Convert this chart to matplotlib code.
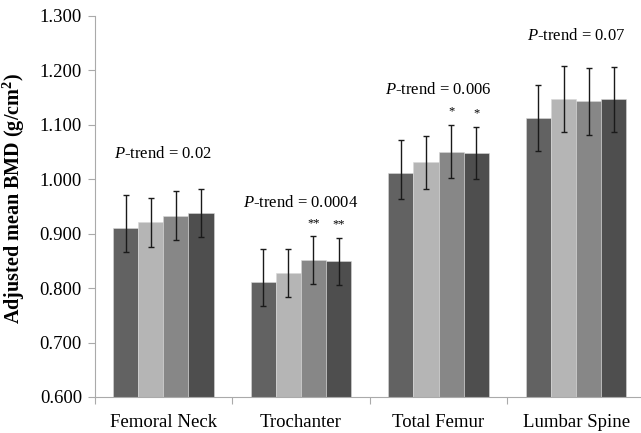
import numpy as np
import matplotlib
matplotlib.use('Agg')
import matplotlib.pyplot as plt

plt.rcParams['font.family'] = ['Liberation Serif', 'DejaVu Serif']
plt.rcParams['mathtext.fontset'] = 'custom'
plt.rcParams['mathtext.rm'] = 'Liberation Serif'
plt.rcParams['mathtext.it'] = 'Liberation Serif:italic'
plt.rcParams['mathtext.bf'] = 'Liberation Serif:bold'

# data
sites = ['Femoral Neck', 'Trochanter', 'Total Femur', 'Lumbar Spine']
q1 = [0.910, 0.811, 1.012, 1.112]
q2 = [0.921, 0.828, 1.031, 1.147]
q3 = [0.933, 0.851, 1.051, 1.143]
q4 = [0.938, 0.849, 1.048, 1.147]
# lower / upper error lengths
q1_lo = [0.043, 0.044, 0.048, 0.060]
q1_hi = [0.062, 0.060, 0.061, 0.061]
q2_err = [0.045, 0.044, 0.048, 0.061]
q3_err = [0.045, 0.044, 0.048, 0.061]
q4_err = [0.044, 0.043, 0.048, 0.060]
ptrend = ['0.02', '0.0004', '0.006', '0.07']
ptrend_y = [1.047, 0.957, 1.164, 1.263]
stars = ['', '**', '*', '']

colors = ['#626262', '#b5b5b5', '#878787', '#4e4e4e']

fig = plt.figure(figsize=(6.41, 4.33), dpi=100)
ax = fig.add_axes([94.5/641, 36/433, 550.4/641, 381/433])

x = np.arange(len(sites))
w = 0.1825
series = [q1, q2, q3, q4]
errs = [[q1_lo, q1_hi], q2_err, q3_err, q4_err]
for i, (vals, err) in enumerate(zip(series, errs)):
    xs = x + (i - 1.5)*w
    ax.bar(xs, vals, width=w, color=colors[i], edgecolor='#d8d8d8', linewidth=0.4,
           bottom=0, zorder=2)
    ax.errorbar(xs, vals, yerr=err, fmt='none', ecolor='#1a1a1a', elinewidth=1.0,
                capsize=2.5, capthick=1.0, zorder=3)

# P-trend labels
for i, p in enumerate(ptrend):
    ax.text(x[i], ptrend_y[i], '$\\mathit{P}$-trend = ' + p, ha='center', va='center',
            fontsize=12)

# asterisks
for i, s in enumerate(stars):
    if s:
        tops = [q3[i] + q3_err[i], q4[i] + q4_err[i]]
        for j, t in zip([2, 3], tops):
            ax.text(x[i] + (j - 1.5)*w, t + 0.025, s, ha='center', va='center',
                    fontsize=9)

ax.set_ylim(0.6, 1.3)
ax.set_xlim(-0.5, 3.5)
ax.set_yticks(np.arange(0.6, 1.301, 0.1))
ax.set_yticklabels(['%.3f' % v for v in np.arange(0.6, 1.301, 0.1)], fontsize=13.5)
ax.set_xticks([-0.5, 0.5, 1.5, 2.5, 3.5])
ax.set_xticklabels([])
ax.set_xticks(x, minor=True)
ax.set_xticklabels(sites, minor=True, fontsize=13.5)
ax.tick_params(axis='x', which='minor', length=0, pad=12)
ax.tick_params(axis='x', which='major', length=5, color='#aaaaaa')
ax.tick_params(axis='y', length=5, color='#aaaaaa', pad=4)

for s in ['top', 'right']:
    ax.spines[s].set_visible(False)
ax.spines['left'].set_color('#aaaaaa')
ax.spines['bottom'].set_color('#aaaaaa')

ax.set_ylabel('Adjusted mean BMD (g/cm$^\\mathbf{2}$)', fontsize=14.5, fontweight='bold')
ax.yaxis.set_label_coords(-0.123, 0.52)

fig.savefig('out.png', dpi=100)
